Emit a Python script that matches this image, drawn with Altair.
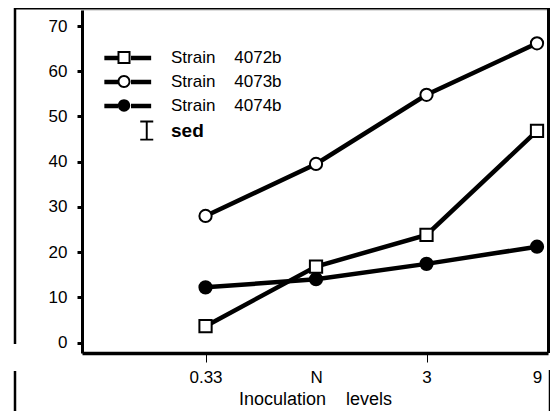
import json
import altair as alt
import pandas as pd

# ---- data ----
levels = ["0.33", "N", "3", "9"]
strains = ["Strain\u00a0\u00a0\u00a0\u00a04072b", "Strain\u00a0\u00a0\u00a0\u00a04073b", "Strain\u00a0\u00a0\u00a0\u00a04074b"]
values_4072b = [3.6, 16.8, 23.8, 46.8]
values_4073b = [28.0, 39.5, 54.8, 66.2]
values_4074b = [12.2, 14.0, 17.4, 21.2]
sed_label = "sed"
y_ticks = [0, 10, 20, 30, 40, 50, 60, 70]

rows = []
for s, vals in zip(strains, [values_4072b, values_4073b, values_4074b]):
    for i, (lvl, v) in enumerate(zip(levels, vals)):
        rows.append({"idx": i, "level": lvl, "strain": s, "value": v})
df = pd.DataFrame(rows)

FONT = "Liberation Sans"
x_scale = alt.Scale(domain=[-1.118, 3.0995], nice=False, zero=False)
y_scale = alt.Scale(domain=[-2.32, 73.56], nice=False, zero=False)

x_axis = alt.Axis(
    values=list(range(len(levels))),
    labelExpr=json.dumps(levels) + "[datum.value]",
    title="Inoculation\u00a0\u00a0\u00a0\u00a0levels",
    grid=False, domainColor="black", domainWidth=3.5,
    tickColor="black", tickWidth=1, tickSize=9,
    tickOpacity={"condition": {"test": "datum.value === 1 || datum.value === 3", "value": 0}, "value": 1},
    labelFont=FONT, labelFontSize=17, labelColor="black", labelPadding=7.5,
    titleFont=FONT, titleFontSize=18, titleFontWeight="normal", titleColor="black", titlePadding=5,
)
y_axis = alt.Axis(
    values=y_ticks, title=None, grid=False,
    domainColor="black", domainWidth=3,
    tickColor="black", tickWidth=3, tickSize=5,
    labelFont=FONT, labelFontSize=17, labelColor="black", labelPadding=10,
)

# legend symbol shapes (filled outlines, so no stroke is needed)
ring_square = "M-1,-1H1V1H-1ZM-0.7,-0.7V0.7H0.7V-0.7Z"
ring_circle = "M-1,0A1,1 0 1,0 1,0A1,1 0 1,0 -1,0ZM-0.7,0A0.7,0.7 0 1,1 0.7,0A0.7,0.7 0 1,1 -0.7,0Z"
dot = "M-0.95,0A0.95,0.95 0 1,0 0.95,0A0.95,0.95 0 1,0 -0.95,0Z"
ibeam = "M2.5,-1.55H4.5V-1.25H2.5ZM3.35,-1.4H3.65V1.4H3.35ZM2.5,1.25H4.5V1.55H2.5Z"

legend_common = dict(
    orient="none", legendX=33.5, legendY=39, title=None, padding=0,
    symbolSize=169, labelFont=FONT, labelColor="black",
    labelOffset=38.5, rowPadding=6, symbolOpacity=1,
)
shape_legend = alt.Legend(
    symbolStrokeWidth=0, symbolFillColor="black",
    labelFontSize={"expr": "datum.label === 'sed' ? 19 : 17"},
    labelFontWeight={"expr": "datum.label === 'sed' ? 'bold' : 'normal'"},
    **legend_common,
)
stroke_legend = alt.Legend(
    symbolType="M-3.1,0H-1M1,0H4.1", symbolStrokeWidth=4.5, labelOpacity=0,
    labelFontSize=17,
    **legend_common,
)

base = alt.Chart(df)
lines = base.mark_line(strokeWidth=4.5).encode(
    x=alt.X("idx:Q", scale=x_scale, axis=x_axis),
    y=alt.Y("value:Q", scale=y_scale, axis=y_axis),
    stroke=alt.Stroke("strain:N", scale=alt.Scale(domain=strains, range=["black"] * 3), legend=stroke_legend),
)
points = base.mark_point(filled=True, size=150, stroke="black", strokeWidth=2, opacity=1).encode(
    x=alt.X("idx:Q", scale=x_scale),
    y=alt.Y("value:Q", scale=y_scale),
    shape=alt.Shape("strain:N", scale=alt.Scale(domain=strains, range=["square", "circle", "circle"]), legend=None),
    fill=alt.Fill("strain:N", scale=alt.Scale(domain=strains, range=["white", "white", "black"]), legend=None),
)
legend_keys = base.mark_point(filled=True, color="black", opacity=0).encode(
    x=alt.X("idx:Q", scale=x_scale),
    y=alt.Y("value:Q", scale=y_scale),
    shape=alt.Shape("strain:N", scale=alt.Scale(domain=strains + [sed_label], range=[ring_square, ring_circle, dot, ibeam]), legend=shape_legend),
)

one = pd.DataFrame({"a": [0]})
def hrule(x1, x2, y, w=3):
    return alt.Chart(one).mark_rule(color="black", strokeWidth=w).encode(x=alt.value(x1), x2=alt.value(x2), y=alt.value(y))
def vrule(x, y1, y2, w=3):
    return alt.Chart(one).mark_rule(color="black", strokeWidth=w).encode(x=alt.value(x), y=alt.value(y1), y2=alt.value(y2))

frame = [
    hrule(-67, 467, -2),
    vrule(-67, -2, 334, 2.5),
    vrule(-67, 361, 403, 2.5),
    vrule(466.5, -2, 343),
    vrule(468, 360, 403, 2.5),
]

chart = alt.layer(lines, points, legend_keys, *frame).resolve_scale(
    shape="independent", fill="independent"
).properties(
    width=466, height=343,
    padding={"left": 74, "top": 2, "right": 2, "bottom": 58},
    autosize=alt.AutoSizeParams(type="none"),
).configure_view(stroke=None).configure(font=FONT)

chart.save("out.html", embed_options={"renderer": "svg", "actions": False})
